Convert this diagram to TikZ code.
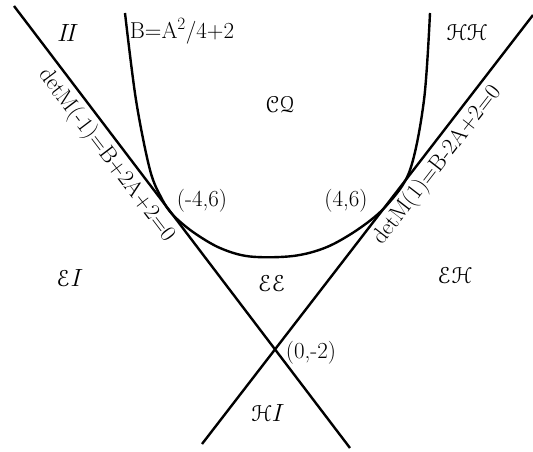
\documentclass[tikz,border=0pt]{standalone}
\usepackage{eucal}
\usetikzlibrary{calc}
\begin{document}
\begin{tikzpicture}[x=1pt,y=-1pt,
  curve/.style={line width=2.4pt},
  lbl/.style={inner sep=0pt,font=\fontsize{23}{27}\selectfont},
  along/.style={lbl,anchor=north,outer sep=5pt}]
\useasboundingbox (0,0) rectangle (533,452);
% lines
\coordinate (L1) at (14,6);
\coordinate (L2) at (350,448);
\coordinate (R1) at (202,444);
\coordinate (R2) at (533,15);
\draw[curve] (L1) -- (L2);
\draw[curve] (R1) -- (R2);
% parabola-like curve
\draw[curve] plot[smooth,tension=0.55] coordinates {(125,13) (136,100) (150,170) (162,199) (173,215) (193,232) (220,248) (250,256.5) (293,256) (327,247) (360,228) (387,205) (410,170) (424,100) (430,13)};
% labels
\node[lbl] (ii) at (68,33) {$I\!I$};
\node[lbl] (bb) at (182,31) {B=A$^2$/4+2};
\node[lbl] (hh) at (467,32) {$\mathcal{H}\mathcal{H}$};
\node[lbl] (cq) at (280,104) {$\mathcal{C}\mathcal{Q}$};
\node[lbl] (p1) at (202,201) {(-4,6)};
\node[lbl] (p2) at (346,201) {(4,6)};
\node[lbl] (ei) at (70,278) {$\mathcal{E}I$};
\node[lbl] (ee) at (272,283) {$\mathcal{E}\mathcal{E}$};
\node[lbl] (eh) at (455,275) {$\mathcal{E}\mathcal{H}$};
\node[lbl] (p0) at (311,353) {(0,-2)};
\node[lbl] (hi) at (268,413) {$\mathcal{H}I$};
\node[along,rotate=-52.8] (dl) at ($(L1)!0.315!(L2)$) {detM(-1)=B+2A+2=0};
\node[along,rotate=52.3] (dr) at ($(R1)!0.673!(R2)$) {detM(1)=B-2A+2=0};
\end{tikzpicture}
\end{document}
